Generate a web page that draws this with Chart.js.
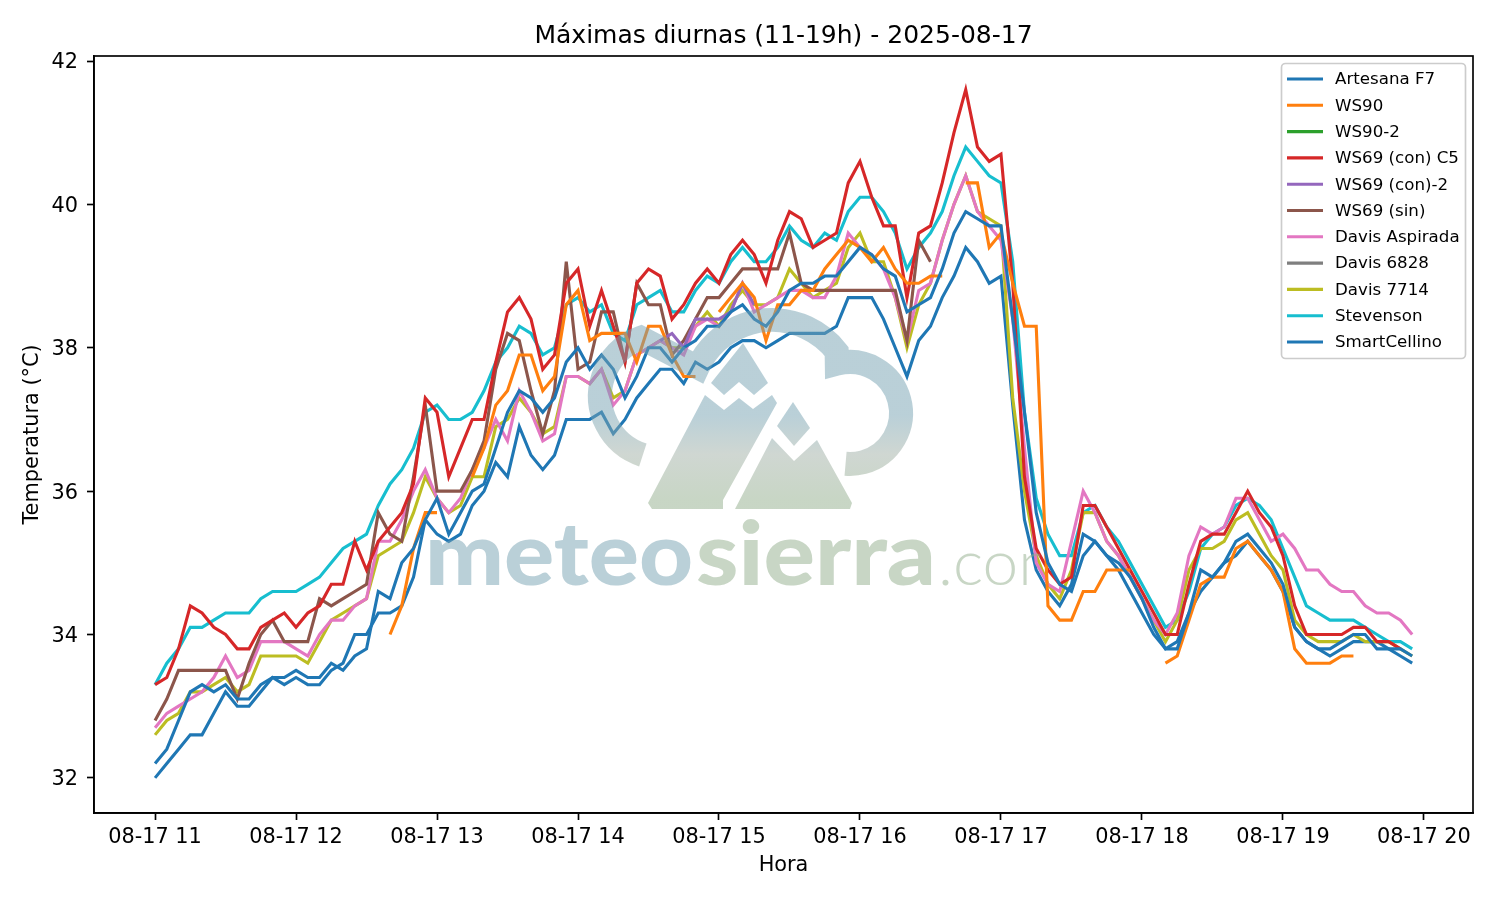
<!DOCTYPE html>
<html>
<head>
<meta charset="utf-8">
<title>Máximas diurnas</title>
<script src="https://cdn.jsdelivr.net/npm/chart.js@4"></script>
<style>
  html, body { margin: 0; padding: 0; background: #fff; }
  #caja { position: relative; width: 1500px; height: 900px; }
</style>
</head>
<body>
<div id="caja"><canvas id="grafico" width="1500" height="900"></canvas></div>
<script>
// lecturas cada 5 minutos, de 11:00 a 19:55
const horas = [];
for (let i = 0; i < 108; i++) horas.push(11 + i / 12);

const ticksHora = [11, 12, 13, 14, 15, 16, 17, 18, 19, 20];
const etiquetasHora = ["08-17 11", "08-17 12", "08-17 13", "08-17 14", "08-17 15", "08-17 16", "08-17 17", "08-17 18", "08-17 19", "08-17 20"];
const ticksTemp = [32, 34, 36, 38, 40, 42];

const artesana = [
  32.2,32.4,32.8,33.2,33.3,33.2,33.3,33.1,33.1,33.3,33.4,33.4,
  33.5,33.4,33.4,33.6,33.5,33.7,33.8,34.6,34.5,35.0,35.2,35.6,
  35.9,35.4,35.7,36.0,36.1,36.6,37.1,37.4,37.3,37.1,37.3,37.8,
  38.0,37.7,37.9,37.7,37.3,37.6,38.0,38.0,37.8,38.0,38.1,38.3,
  38.3,38.5,38.6,38.4,38.3,38.5,38.8,38.9,38.9,39.0,39.0,39.2,
  39.4,39.3,39.1,39.0,38.5,38.6,38.7,39.1,39.6,39.9,39.8,39.7,
  39.7,38.4,37.1,35.7,35.0,34.7,34.6,35.1,35.3,35.1,35.0,34.8,
  34.5,34.1,33.8,33.8,34.3,34.9,34.8,35.0,35.3,35.4,35.2,35.0,
  34.7,34.1,33.9,33.8,33.8,33.9,34.0,34.0,33.8,33.8,33.8,33.7
];
const ws90 = [
  null,null,null,null,null,null,null,null,null,null,null,null,
  null,null,null,null,null,null,null,null,34.0,34.4,35.2,35.7,
  35.7,null,null,36.2,36.6,37.2,37.4,37.9,37.9,37.4,37.6,38.6,
  38.8,38.1,38.2,38.2,38.2,37.8,38.3,38.3,37.9,37.6,37.6,null,
  38.5,38.7,38.9,38.7,38.1,38.6,38.6,38.8,38.8,39.1,39.3,39.5,
  39.4,39.2,39.4,39.1,38.9,38.9,39.0,39.0,null,40.3,40.3,39.4,
  39.6,38.9,38.3,38.3,34.4,34.2,34.2,34.6,34.6,34.9,34.9,34.9,
  null,null,33.6,33.7,34.2,34.7,34.8,34.8,35.2,35.3,35.1,34.9,
  34.6,33.8,33.6,33.6,33.6,33.7,33.7
];
// no se ve en la imagen, queda tapada
const ws90_2 = [];
const ws69conC5 = [
  33.3,33.4,33.8,34.4,34.3,34.1,34.0,33.8,33.8,34.1,34.2,34.3,
  34.1,34.3,34.4,34.7,34.7,35.3,34.9,35.3,35.5,35.7,36.1,37.3,
  37.1,36.2,36.6,37.0,37.0,37.8,38.5,38.7,38.4,37.7,37.9,38.9,
  39.1,38.3,38.8,38.3,37.8,38.9,39.1,39.0,38.4,38.6,38.9,39.1,
  38.9,39.3,39.5,39.3,38.9,39.5,39.9,39.8,39.4,39.5,39.6,40.3,
  40.6,40.1,39.7,39.7,38.7,39.6,39.7,40.3,41.0,41.6,40.8,40.6,
  40.7,38.9,36.2,35.2,34.9,34.7,34.8,35.8,35.8,35.5,35.2,34.9,
  34.6,34.3,34.0,34.0,34.7,35.3,35.4,35.4,35.7,36.0,35.7,35.5,
  35.1,34.4,34.0,34.0,34.0,34.0,34.1,34.1,33.9,33.9,33.8
];
const ws69con2 = [
  null,null,null,null,null,null,null,null,null,null,null,null,
  null,null,null,null,null,null,null,null,null,null,null,null,
  null,null,null,null,null,null,null,null,null,null,null,null,
  null,null,null,null,null,null,null,38.1,38.2,38.0,38.4,38.4,
  38.4,38.5,38.9,38.6
];
const ws69sin = [
  32.8,33.1,33.5,33.5,33.5,33.5,33.5,33.1,33.6,34.0,34.2,33.9,
  33.9,33.9,34.5,34.4,34.5,34.6,34.7,35.7,35.4,35.3,36.2,37.2,
  36.0,36.0,36.0,36.3,36.7,37.7,38.2,38.1,37.4,36.8,37.4,39.2,
  37.7,37.8,38.5,38.5,37.8,38.9,38.6,38.6,37.9,38.1,38.4,38.7,
  38.7,38.9,39.1,39.1,39.1,39.1,39.6,38.9,38.8,38.8,38.8,38.8,
  38.8,38.8,38.8,38.8,38.1,39.5,39.2
];
const davisAspirada = [
  32.7,32.9,33.0,33.1,33.2,33.4,33.7,33.4,33.5,33.9,33.9,33.9,
  33.8,33.7,34.0,34.2,34.2,34.4,34.5,35.3,35.3,35.6,36.0,36.3,
  35.9,35.7,35.9,36.3,36.6,37.0,36.7,37.4,37.1,36.7,36.8,37.6,
  37.6,37.5,37.7,37.2,37.4,37.9,38.0,38.1,38.0,37.9,38.3,38.4,
  38.3,38.5,38.9,38.5,38.6,38.7,38.8,38.8,38.7,38.7,39.0,39.6,
  39.4,39.3,39.1,38.7,38.1,38.8,38.9,39.5,40.0,40.4,39.9,39.7,
  39.5,38.4,36.6,35.0,34.7,34.6,35.3,36.0,35.7,35.3,35.1,34.8,
  34.5,34.2,34.0,34.3,35.1,35.5,35.4,35.5,35.9,35.9,35.6,35.3,
  35.4,35.2,34.9,34.9,34.7,34.6,34.6,34.4,34.3,34.3,34.2,34.0
];
// tambien tapada, debajo de la 7714
const davis6828 = [];
const davis7714 = [
  32.6,32.8,32.9,33.2,33.2,33.3,33.4,33.2,33.3,33.7,33.7,33.7,
  33.7,33.6,33.9,34.2,34.3,34.4,34.5,35.1,35.2,35.3,35.7,36.2,
  35.9,35.7,35.8,36.2,36.2,36.9,37.0,37.3,37.1,36.8,36.9,37.6,
  37.6,37.5,37.7,37.3,37.4,37.9,38.0,38.1,38.0,38.0,38.3,38.5,
  38.3,38.6,38.8,38.6,38.6,38.7,39.1,38.9,38.7,38.8,38.9,39.4,
  39.6,39.2,39.2,38.7,38.0,38.6,38.9,39.5,40.0,40.4,39.9,39.8,
  39.7,37.3,36.0,35.1,34.7,34.5,34.9,35.7,35.7,35.3,35.1,34.8,
  34.5,34.2,33.9,34.2,34.9,35.2,35.2,35.3,35.6,35.7,35.4,35.1,
  34.9,34.2,34.0,33.9,33.9,33.9,34.0,33.9,33.9,33.9,33.8,33.7
];
const stevenson = [
  33.3,33.6,33.8,34.1,34.1,34.2,34.3,34.3,34.3,34.5,34.6,34.6,
  34.6,34.7,34.8,35.0,35.2,35.3,35.4,35.8,36.1,36.3,36.6,37.1,
  37.2,37.0,37.0,37.1,37.4,37.8,38.0,38.3,38.2,37.9,38.0,38.6,
  38.7,38.5,38.6,38.2,38.1,38.6,38.7,38.8,38.5,38.5,38.8,39.0,
  38.9,39.2,39.4,39.2,39.2,39.4,39.7,39.5,39.4,39.6,39.5,39.9,
  40.1,40.1,39.9,39.6,39.1,39.4,39.6,39.9,40.4,40.8,40.6,40.4,
  40.3,39.2,37.1,35.9,35.4,35.1,35.1,35.7,35.8,35.5,35.3,35.0,
  34.7,34.4,34.1,34.2,34.6,35.2,35.4,35.5,35.8,35.9,35.8,35.6,
  35.2,34.8,34.4,34.3,34.2,34.2,34.2,34.1,34.0,33.9,33.9,33.8
];
const smartCellino = [
  32.0,32.2,32.4,32.6,32.6,32.9,33.2,33.0,33.0,33.2,33.4,33.3,
  33.4,33.3,33.3,33.5,33.6,34.0,34.0,34.3,34.3,34.4,34.8,35.6,
  35.4,35.3,35.4,35.8,36.0,36.4,36.2,36.9,36.5,36.3,36.5,37.0,
  37.0,37.0,37.1,36.8,37.0,37.3,37.5,37.7,37.7,37.5,37.8,37.7,
  37.8,38.0,38.1,38.1,38.0,38.1,38.2,38.2,38.2,38.2,38.3,38.7,
  38.7,38.7,38.4,38.0,37.6,38.1,38.3,38.7,39.0,39.4,39.2,38.9,
  39.0,37.2,35.6,34.9,34.6,34.4,34.7,35.4,35.3,35.1,34.9,34.6,
  34.3,34.0,33.8,33.9,34.3,34.6,34.8,35.0,35.1,35.3,35.1,34.9,
  34.6,34.1,33.9,33.8,33.7,33.8,33.9,33.9,33.9,33.8,33.7,33.6
];

const nombres = ["Artesana F7", "WS90", "WS90-2", "WS69 (con) C5", "WS69 (con)-2", "WS69 (sin)", "Davis Aspirada", "Davis 6828", "Davis 7714", "Stevenson", "SmartCellino"];
const series = [artesana, ws90, ws90_2, ws69conC5, ws69con2, ws69sin, davisAspirada, davis6828, davis7714, stevenson, smartCellino];
const colores = ["#1f77b4", "#ff7f0e", "#2ca02c", "#d62728", "#9467bd", "#8c564b", "#e377c2", "#7f7f7f", "#bcbd22", "#17becf", "#1f77b4"];

const fuente = "'DejaVu Sans'";

// marco completo de los ejes
const marco = {
  id: "marco",
  afterDraw(chart) {
    const a = chart.chartArea, ctx = chart.ctx;
    ctx.save();
    ctx.strokeStyle = "#000";
    ctx.lineWidth = 1.67;
    ctx.strokeRect(a.left, a.top, a.right - a.left, a.bottom - a.top);
    ctx.restore();
  }
};

// logo de fondo, semitransparente por encima de las lineas
const marcaAgua = {
  id: "marcaAgua",
  afterDatasetsDraw(chart) {
    const ctx = chart.ctx;
    const grad = ctx.createLinearGradient(0, 370, 0, 500);
    grad.addColorStop(0, "rgba(117,161,177,0.5)");
    grad.addColorStop(0.35, "rgba(117,161,177,0.5)");
    grad.addColorStop(0.65, "rgba(160,175,165,0.5)");
    grad.addColorStop(1, "rgba(145,173,139,0.5)");
    ctx.save();
    ctx.strokeStyle = grad;
    ctx.fillStyle = grad;
    ctx.lineWidth = 24;

    // nube, de una sola pasada para no doblar la transparencia
    const g = Math.PI / 180;
    ctx.beginPath();
    ctx.arc(662, 396, 62, 108 * g, 250 * g);
    ctx.arc(772, 402, 82, 205 * g, 322 * g);
    ctx.arc(850, 413, 51, -105 * g, 95 * g);
    ctx.stroke();

    const poli = (p) => {
      ctx.beginPath();
      p.forEach((q, i) => i ? ctx.lineTo(q[0], q[1]) : ctx.moveTo(q[0], q[1]));
      ctx.closePath();
      ctx.fill();
    };
    poli([[743, 343], [711, 383], [724, 395], [739, 382], [754, 395], [768, 383]]);
    poli([[705, 395], [724, 410], [739, 398], [753, 409], [772, 395], [777, 403], [723, 500], [723, 509], [652, 509], [648, 503]]);
    poli([[793, 402], [810, 428], [794, 446], [777, 426]]);
    poli([[735, 509], [772, 438], [794, 461], [817, 440], [852, 503], [850, 509]]);

    // texto del logo, ajustado al ancho
    const ajustar = (t, x, y, w) => {
      ctx.save();
      ctx.translate(x, y);
      ctx.scale(w / ctx.measureText(t).width, 1);
      ctx.fillText(t, 0, 0);
      ctx.restore();
    };
    ctx.textBaseline = "alphabetic";
    ctx.textAlign = "left";
    ctx.font = "900 88px Lato";
    ctx.fillStyle = "rgba(117,161,177,0.5)";
    ajustar("meteo", 425, 585, 268);
    ctx.fillStyle = "rgba(145,173,139,0.5)";
    ajustar("sierra", 696, 585, 240);
    ctx.beginPath();
    ctx.rect(930, 520, 110, 80);
    ctx.clip();
    ctx.font = "300 64px Lato";
    ctx.fillStyle = "rgba(145,173,139,0.5)";
    ctx.fillText(".com", 938, 585);
    ctx.restore();
  }
};

// leyenda dentro del area, con su caja
const leyenda = {
  id: "leyenda",
  afterDraw(chart) {
    const ctx = chart.ctx;
    ctx.save();
    ctx.beginPath();
    ctx.roundRect(1281.5, 63.5, 184, 295, 4);
    ctx.fillStyle = "rgba(255,255,255,0.8)";
    ctx.fill();
    ctx.strokeStyle = "#cccccc";
    ctx.lineWidth = 1.67;
    ctx.stroke();
    ctx.font = "16.67px " + fuente;
    ctx.textBaseline = "middle";
    ctx.textAlign = "left";
    nombres.forEach((n, i) => {
      const y = 79 + i * 26.3;
      ctx.strokeStyle = colores[i];
      ctx.lineWidth = 3.1;
      ctx.beginPath();
      ctx.moveTo(1287, y);
      ctx.lineTo(1323, y);
      ctx.stroke();
      ctx.fillStyle = "#000";
      ctx.fillText(n, 1335, y + 1);
    });
    ctx.restore();
  }
};

new Chart(document.getElementById("grafico"), {
  type: "line",
  data: {
    labels: horas,
    datasets: series.map((s, i) => ({
      label: nombres[i],
      data: s,
      borderColor: colores[i],
      backgroundColor: colores[i],
      borderWidth: 3.1,
      pointRadius: 0,
      tension: 0,
      spanGaps: false,
      fill: false
    }))
  },
  options: {
    responsive: false,
    animation: false,
    layout: { padding: { right: 27 } },
    plugins: {
      legend: { display: false },
      tooltip: { enabled: false },
      title: {
        display: true,
        fullSize: false,
        text: "Máximas diurnas (11-19h) - 2025-08-17",
        color: "#000",
        font: { family: fuente, size: 25, weight: "normal", lineHeight: 1.2 },
        padding: { top: 21, bottom: 5 }
      }
    },
    scales: {
      x: {
        type: "linear",
        min: 10.567,
        max: 20.348,
        afterFit(s) { s.height = 87; },
        afterBuildTicks(s) { s.ticks = ticksHora.map((v) => ({ value: v })); },
        grid: { display: true, drawOnChartArea: false, drawTicks: true, tickLength: 7, tickWidth: 1.67, color: "#000" },
        border: { display: true, color: "#000", width: 1.67 },
        ticks: {
          color: "#000",
          font: { family: fuente, size: 20.83 },
          padding: 5,
          maxRotation: 0,
          autoSkip: false,
          callback(v) { return etiquetasHora[ticksHora.indexOf(v)]; }
        },
        title: { display: true, text: "Hora", color: "#000", font: { family: fuente, size: 20.83 }, padding: { top: 0, bottom: 22 } }
      },
      y: {
        min: 31.51,
        max: 42.07,
        afterFit(s) { s.width = 94; },
        afterBuildTicks(s) { s.ticks = ticksTemp.map((v) => ({ value: v })); },
        grid: { display: true, drawOnChartArea: false, drawTicks: true, tickLength: 7, tickWidth: 1.67, color: "#000" },
        border: { display: true, color: "#000", width: 1.67 },
        ticks: {
          color: "#000",
          font: { family: fuente, size: 20.83 },
          padding: 9,
          labelOffset: 2,
          autoSkip: false
        },
        title: { display: true, text: "Temperatura (°C)", color: "#000", font: { family: fuente, size: 20.83 }, padding: { top: 20, bottom: 0 } }
      }
    }
  },
  plugins: [marcaAgua, marco, leyenda]
});
</script>
</body>
</html>
